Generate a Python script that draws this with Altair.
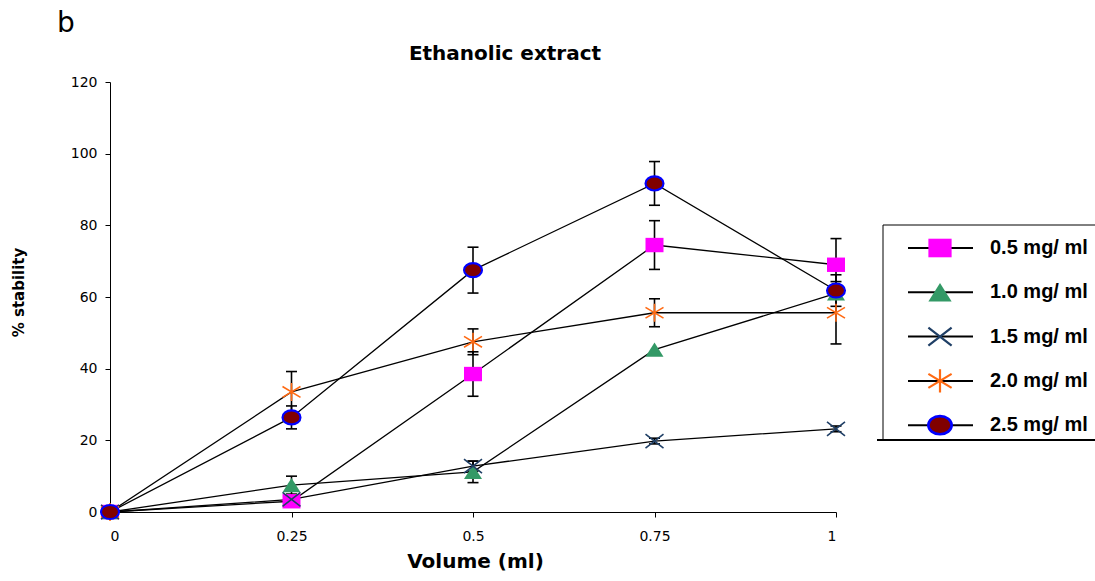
import altair as alt
import pandas as pd

# ---------------- data ----------------
volume = [0, 0.25, 0.5, 0.75, 1]
series_names = ["0.5 mg/ ml", "1.0 mg/ ml", "1.5 mg/ ml", "2.0 mg/ ml", "2.5 mg/ ml"]
s05 = [0, 3.0, 38.5, 74.5, 69.0]
s05_err = [0, 0, 6.2, 6.8, 7.3]
s10 = [0, 7.5, 11.2, 45.3, 61.0]
s10_err = [0, 2.5, 3.0, 0, 0]
s15 = [0, 3.5, 12.8, 19.8, 23.2]
s15_err = [0, 0, 1.4, 0.8, 0.8]
s20 = [0, 33.5, 47.5, 55.6, 55.6]
s20_err = [0, 5.7, 3.6, 3.9, 8.7]
s25 = [0, 26.4, 67.5, 91.7, 61.8]
s25_err = [0, 3.2, 6.4, 6.1, 4.4]
y_ticks = [0, 20, 40, 60, 80, 100, 120]

values = [s05, s10, s15, s20, s25]
errors = [s05_err, s10_err, s15_err, s20_err, s25_err]

rows = []
for name, vals, errs in zip(series_names, values, errors):
    for x, v, e in zip(volume, vals, errs):
        rows.append({"series": name, "volume": x, "stability": v, "err": e,
                     "lo": v - e, "hi": v + e})
df = pd.DataFrame(rows)

# ---------------- styles ----------------
SQUARE = "M-1,-0.8L1,-0.8L1,0.8L-1,0.8Z"
TRI = "M0,-0.8L1,0.8L-1,0.8Z"
XCROSS = "M-1,-0.78L1,0.78M-1,0.78L1,-0.78"
STAR = "M0,-1L0,1M-1,-0.6L1,0.6M-1,0.6L1,-0.6"
ELLIPSE = "M-1,0A1,0.78,0,1,1,1,0A1,0.78,0,1,1,-1,0Z"

styles = [
    dict(shape=SQUARE, filled=True, fill="#FF00FF"),
    dict(shape=TRI, filled=True, fill="#339966"),
    dict(shape=XCROSS, filled=False, stroke="#1F3F66"),
    dict(shape=STAR, filled=False, stroke="#FF6A13"),
    dict(shape=ELLIPSE, filled=True, fill="#800000", stroke="#0000FF"),
]

W, H = 726, 430
SANS = "DejaVu Sans"

x_enc = alt.X(
    "volume:Q",
    scale=alt.Scale(domain=[0, 1], nice=False, zero=False),
    axis=alt.Axis(
        values=volume, format="~g", title="Volume (ml)", grid=False,
        labelFont=SANS, labelFontSize=14, labelColor="black", labelPadding=12,
        tickSize=5, tickColor="black", domainColor="black",
        titleFont=SANS, titleFontSize=20, titleFontWeight="bold", titleColor="black",
        titleX=365, titleY=55, titleBaseline="alphabetic", titleAlign="center",
    ),
)
y_enc = alt.Y(
    "stability:Q",
    scale=alt.Scale(domain=[0, 120], nice=False),
    axis=alt.Axis(
        values=y_ticks, title="% stability", grid=False,
        labelFont=SANS, labelFontSize=14, labelColor="black", labelPadding=8,
        tickSize=5, tickColor="black", domainColor="black",
        titleFont=SANS, titleFontSize=15, titleFontWeight="bold", titleColor="black",
        titleX=-92, titleY=210, titleAngle=270, titleAlign="center",
        titleBaseline="middle",
    ),
)

base = alt.Chart(df)

lines = base.mark_line(color="black", strokeWidth=1.3).encode(
    x=x_enc, y=y_enc, detail="series:N", order="volume:Q"
)

err_df = df[df["err"] > 0]
err_base = alt.Chart(err_df)
err_v = err_base.mark_rule(color="black", strokeWidth=1.6).encode(
    x="volume:Q", y="lo:Q", y2="hi:Q"
)
cap_hi = err_base.mark_rule(color="black", strokeWidth=1.6, xOffset=-5.5, x2Offset=5.5).encode(
    x="volume:Q", x2="volume:Q", y="hi:Q"
)
cap_lo = err_base.mark_rule(color="black", strokeWidth=1.6, xOffset=-5.5, x2Offset=5.5).encode(
    x="volume:Q", x2="volume:Q", y="lo:Q"
)


def point_mark(st, size, sw):
    kw = dict(shape=st["shape"], size=size, opacity=1)
    if st["filled"]:
        kw["filled"] = True
        kw["fill"] = st["fill"]
        if "stroke" in st:
            kw["stroke"] = st["stroke"]
            kw["strokeWidth"] = sw + 0.5
        else:
            kw["strokeWidth"] = 0
    else:
        kw["filled"] = False
        kw["stroke"] = st["stroke"]
        kw["strokeWidth"] = sw
    return kw


marker_layers = []
for name, st in zip(series_names, styles):
    marker_layers.append(
        alt.Chart(df[df["series"] == name]).mark_point(**point_mark(st, 324, 1.6)).encode(
            x="volume:Q", y="stability:Q"
        )
    )

# ---------------- legend (drawn manually) ----------------
one = pd.DataFrame({"k": [0]})
legend_layers = [
    alt.Chart(one).mark_rect(fill="white", stroke="black", strokeWidth=1).encode(
        x=alt.value(773), x2=alt.value(1000), y=alt.value(143), y2=alt.value(358)
    ),
    alt.Chart(one).mark_rule(color="black", strokeWidth=2).encode(
        x=alt.value(767), x2=alt.value(990), y=alt.value(358)
    ),
]
for i, (name, st) in enumerate(zip(series_names, styles)):
    yy = 166 + i * 44.3
    ldf = pd.DataFrame({"label": [name]})
    legend_layers.append(
        alt.Chart(ldf).mark_rule(color="black", strokeWidth=2).encode(
            x=alt.value(798), x2=alt.value(863), y=alt.value(yy)
        )
    )
    legend_layers.append(
        alt.Chart(ldf).mark_point(**point_mark(st, 540, 2.2)).encode(
            x=alt.value(830), y=alt.value(yy)
        )
    )
    legend_layers.append(
        alt.Chart(ldf).mark_text(
            align="left", baseline="middle", font="Liberation Sans",
            fontSize=20, fontWeight="bold", color="black"
        ).encode(x=alt.value(880), y=alt.value(yy), text="label:N")
    )

# ---------------- title and panel letter ----------------
title_layer = alt.Chart(pd.DataFrame({"t": ["Ethanolic extract"]})).mark_text(
    align="center", baseline="alphabetic", font=SANS, fontSize=20,
    fontWeight="bold", color="black"
).encode(x=alt.value(395), y=alt.value(-22), text="t:N")
letter_layer = alt.Chart(pd.DataFrame({"t": ["b"]})).mark_text(
    align="center", baseline="alphabetic", font=SANS, fontSize=28, color="black"
).encode(x=alt.value(-44), y=alt.value(-50), text="t:N")

chart = alt.layer(
    lines, err_v, cap_hi, cap_lo, *marker_layers, *legend_layers,
    title_layer, letter_layer
).properties(
    width=W, height=H,
    autosize=alt.AutoSizeParams(type="none"),
    padding={"left": 110, "top": 82, "right": 1095 - 110 - W, "bottom": 581 - 82 - H},
    background="white",
).configure_view(stroke=None)

chart.save("out.html", embed_options={"renderer": "svg", "actions": False})
